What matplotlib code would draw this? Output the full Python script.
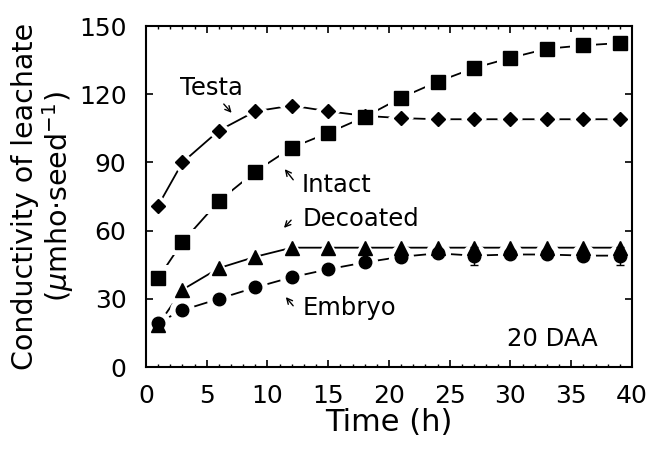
import matplotlib

matplotlib.use("Agg")
import matplotlib.pyplot as plt
from matplotlib.ticker import MultipleLocator

# Sampling times (h)
hours = [1, 3, 6, 9, 12, 15, 18, 21, 24, 27, 30, 33, 36, 39]

# Conductivity of leachate (umho per seed)
testa = [71, 90, 104, 112.5, 115, 112.5, 110.5, 109.5, 109, 109, 109, 109, 109, 109]
intact = [39, 55, 73, 86, 96.5, 103, 110, 118.5, 125.5, 131.5, 136, 140, 141.5, 142.5]
decoated = [18.5, 34, 43.5, 48.5, 52.5, 52.5, 52.5, 52.5, 52.5, 52.5, 52.5, 52.5, 52.5, 52.5]
embryo = [19.5, 25, 30, 35, 39.5, 43, 46, 48.5, 50, 49, 49.5, 49.5, 49, 49]
embryo_err = [0, 0, 0, 0, 0, 0, 0, 0, 0, 4, 0, 0, 0, 4]

plt.rcParams["font.family"] = "DejaVu Sans"

fig = plt.figure(figsize=(6.5, 4.49), dpi=100)
ax = fig.add_axes([0.2246, 0.1826, 0.7477, 0.7594])

# (values, marker, marker size, halo size)
series = [
    (testa, "D", 7.0, 13.5),
    (intact, "s", 10, 18.5),
    (decoated, "^", 10, 19),
    (embryo, "o", 9, 18),
]

# solid connecting line, a white halo to open gaps round the points,
# then the black markers on top of everything
for vals, m, ms, halo in series:
    ax.plot(hours, vals, color="black", lw=1.3, zorder=1)
for vals, m, ms, halo in series:
    ax.plot(hours, vals, ls="none", marker=m, ms=halo, markerfacecolor="white",
            markeredgecolor="white", mew=0, zorder=2)
ax.errorbar(hours, embryo, yerr=embryo_err, fmt="none", ecolor="black",
            elinewidth=1.0, capsize=3, zorder=3)
for vals, m, ms, halo in series:
    ax.plot(hours, vals, ls="none", marker=m, ms=ms, color="black", mew=1, zorder=4)

ax.set_xlim(0, 40)
ax.set_ylim(0, 150)
ax.xaxis.set_major_locator(MultipleLocator(5))
ax.xaxis.set_minor_locator(MultipleLocator(1))
ax.yaxis.set_major_locator(MultipleLocator(30))
ax.tick_params(which="both", direction="in", top=True, right=True, labelsize=18)
ax.tick_params(which="major", length=5, width=1.2)
ax.tick_params(which="minor", length=2.5, width=1.0)
ax.tick_params(axis="x", which="major", pad=12)
ax.tick_params(axis="y", which="major", pad=14)
for s in ax.spines.values():
    s.set_linewidth(1.5)
    s.set_zorder(5)

ax.set_xlabel("Time (h)", fontsize=22, labelpad=0)
ax.set_ylabel("Conductivity of leachate\n($\\mu$mho$\\cdot$seed$^{-1}$)", fontsize=20.5,
              linespacing=1.05, labelpad=2)

# Curve labels with arrows
arrow = dict(arrowstyle="->", color="black", lw=1.0)
ax.text(5.4, 122.7, "Testa", fontsize=17.5, ha="center", va="center")
ax.annotate("", xy=(7.2, 110.9), xytext=(6.25, 116.6), arrowprops=arrow)
ax.text(12.8, 80, "Intact", fontsize=17.5, ha="left", va="center")
ax.annotate("", xy=(11.28, 88), xytext=(12.26, 81.4), arrowprops=arrow)
ax.text(12.9, 65, "Decoated", fontsize=17.5, ha="left", va="center")
ax.annotate("", xy=(11.2, 60.3), xytext=(12.1, 65.5), arrowprops=arrow)
ax.text(12.9, 26, "Embryo", fontsize=17.5, ha="left", va="center")
ax.annotate("", xy=(11.36, 31.7), xytext=(12.26, 26), arrowprops=arrow)
ax.text(37.2, 12.3, "20 DAA", fontsize=17.5, ha="right", va="center")

fig.savefig("out.png", dpi=100)
